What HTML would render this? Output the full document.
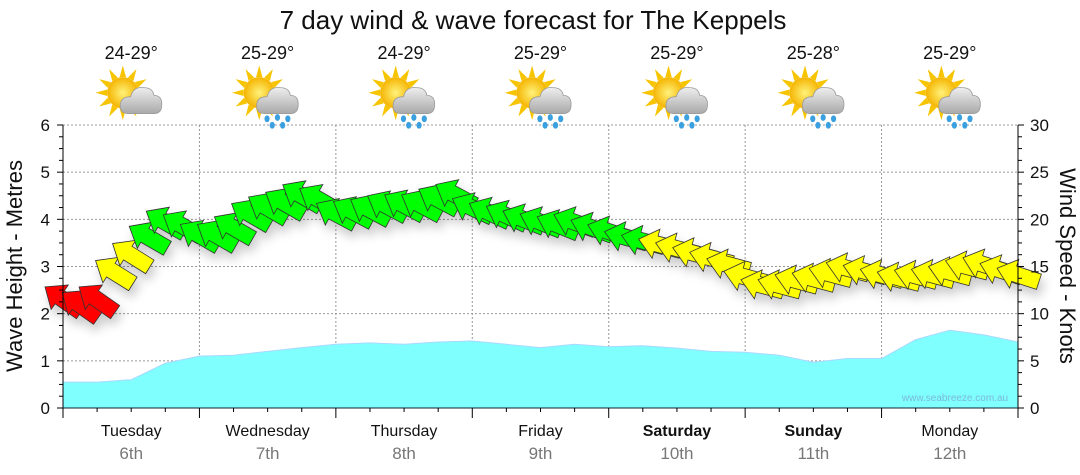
<!DOCTYPE html>
<html><head><meta charset="utf-8"><style>
body{margin:0;background:#fff;}
svg{display:block;font-family:"Liberation Sans",sans-serif;}
</style></head><body>
<svg id="c" width="1080" height="475" viewBox="0 0 1080 475">
<defs>
<filter id="sh" x="-30%" y="-30%" width="160%" height="180%"><feDropShadow dx="3" dy="7" stdDeviation="5" flood-color="#000" flood-opacity="0.2"/></filter>
<radialGradient id="sun" cx="50%" cy="50%" r="50%"><stop offset="0" stop-color="#fff27a"/><stop offset="1" stop-color="#f5b400"/></radialGradient>
<linearGradient id="cl" x1="0" y1="0" x2="0" y2="1"><stop offset="0" stop-color="#eee"/><stop offset="1" stop-color="#a9a9a9"/></linearGradient>
</defs>
<text x="533" y="29" text-anchor="middle" font-size="26" fill="#111">7 day wind &amp; wave forecast for The Keppels</text>
<g id="grid"></g>
<g id="waves"></g>
<g id="arrows" filter="url(#sh)"></g>
<g id="axes"></g>
<g id="top"></g>
<text x="955" y="401" text-anchor="middle" font-size="10" fill="#7ab8d8">www.seabreeze.com.au</text>
<text transform="translate(22,266) rotate(-90)" text-anchor="middle" font-size="22" fill="#111">Wave Height - Metres</text>
<text transform="translate(1060,266) rotate(90)" text-anchor="middle" font-size="22" fill="#111">Wind Speed - Knots</text>
</svg>
<script>
const days=["Tuesday","Wednesday","Thursday","Friday","Saturday","Sunday","Monday"];
const dates=["6th","7th","8th","9th","10th","11th","12th"];
const boldDays=[false,false,false,false,true,true,false];
const temps=["24-29°","25-29°","24-29°","25-29°","25-29°","25-28°","25-29°"];
const rainy=[false,true,true,true,true,true,true];
const leftTicks=[0,1,2,3,4,5,6];
const rightTicks=[0,5,10,15,20,25,30];
// wave height every 6 hours (m)
const waveHeights=[0.55,0.55,0.6,0.95,1.1,1.12,1.2,1.28,1.35,1.38,1.35,1.4,1.42,1.35,1.28,1.35,1.3,1.32,1.27,1.2,1.18,1.12,0.97,1.05,1.05,1.45,1.65,1.55,1.4];
// wind speed every 3 hours (knots)
const windSpeeds=[11.5,10.9,11.5,14.4,16.2,18.1,19.7,19.3,18.3,18.3,19.1,20.5,21.2,21.7,22.5,22.1,20.6,20.8,21.0,21.4,21.5,21.5,22.1,22.6,21.2,20.7,20.4,20.0,19.7,19.4,19.7,19.1,18.7,18.1,17.7,17.3,16.9,16.4,15.9,15.2,13.9,13.0,13.0,13.5,13.7,14.2,14.8,14.5,14.1,13.8,14.0,14.1,14.4,15.0,15.2,14.6,14.1];
// wind direction (degrees, from)
const windDirs=[125,125,125,122,122,120,120,120,120,120,120,120,120,120,120,120,118,118,118,118,118,118,118,118,115,115,115,112,112,112,110,110,108,105,105,105,105,105,105,105,105,105,105,105,105,105,105,105,105,105,105,105,105,105,108,108,108];

const X0=63,X1=1018,YB=408,YT=125,HOURS=168;
const xH=h=>X0+h*(X1-X0)/HOURS;
const yM=m=>YB-m*(YB-YT)/6;
const yK=k=>YB-k*(YB-YT)/30;
const NS="http://www.w3.org/2000/svg";
function mk(tag,attrs,parent){const e=document.createElementNS(NS,tag);for(const k in attrs)e.setAttribute(k,attrs[k]);parent.appendChild(e);return e;}
const grid=document.getElementById('grid'),axes=document.getElementById('axes'),top_=document.getElementById('top'),wv=document.getElementById('waves'),ar=document.getElementById('arrows');

leftTicks.forEach(v=>{if(v>0){const l=mk('line',{x1:X0,x2:X1,y1:yM(v),y2:yM(v),stroke:'#999','stroke-dasharray':'2,2','stroke-width':1},grid);

}});
for(let d=1;d<7;d++){const l=mk('line',{x1:xH(d*24),x2:xH(d*24),y1:YT,y2:YB,stroke:'#999','stroke-dasharray':'2,2'},grid);

}

let p='M'+X0+','+YB;
waveHeights.forEach((m,i)=>{p+=' L'+xH(i*6).toFixed(1)+','+yM(m).toFixed(1);});
p+=' L'+X1+','+YB+' Z';
const wa=mk('path',{d:p,fill:'#80ffff',stroke:'#a9d8ff','stroke-width':1},wv);



const shape="-22,0 -4,-15 -4,-8 22,-8 22,8 -4,8 -4,15";
windSpeeds.forEach((k,i)=>{
 const col=k<12?'#ff0000':(k<17.5?'#ffff00':'#00ff00');
 const a=mk('polygon',{points:shape,fill:col,stroke:'#333','stroke-width':0.8,
 transform:'translate('+xH(i*3).toFixed(1)+','+yK(k).toFixed(1)+') rotate('+(windDirs[i]-90)+')'},ar);
 
 
});

mk('line',{x1:X0,x2:X0,y1:YT,y2:YB,stroke:'#000'},axes);
mk('line',{x1:X1,x2:X1,y1:YT,y2:YB,stroke:'#000'},axes);
mk('line',{x1:X0,x2:X1,y1:YB,y2:YB,stroke:'#123'},axes);
for(let i=0;i<=24;i++){const y=yM(i*0.25);mk('line',{x1:X0-(i%4?4:6),x2:X0,y1:y,y2:y,stroke:'#000'},axes);mk('line',{x1:X1,x2:X1+(i%4?4:6),y1:y,y2:y,stroke:'#000'},axes);}
leftTicks.forEach(v=>{const t=mk('text',{x:50,y:yM(v)+6,'text-anchor':'end','font-size':17,fill:'#111'},axes);t.textContent=v;

});
rightTicks.forEach(v=>{const t=mk('text',{x:1030,y:yK(v)+6,'font-size':17,fill:'#111'},axes);t.textContent=v;

});
for(let h=0;h<=HOURS;h+=6){const x=xH(h);mk('line',{x1:x,x2:x,y1:YB,y2:YB+(h%24?4:10),stroke:'#000'},axes);}
days.forEach((d,i)=>{const cx=xH(i*24+12);
 const t=mk('text',{x:cx,y:436,'text-anchor':'middle','font-size':16,fill:'#111','font-weight':boldDays[i]?'bold':'normal'},axes);t.textContent=d;
 
 
 const s=mk('text',{x:cx,y:459,'text-anchor':'middle','font-size':17,fill:'#777'},axes);s.textContent=dates[i];
 
 
 const tt=mk('text',{x:cx,y:59,'text-anchor':'middle','font-size':18,fill:'#111'},top_);tt.textContent=temps[i];
 
 
 const g=mk('g',{transform:'translate('+(cx+2)+',98) scale(1.3)'},top_);
 
 
 for(let r=0;r<12;r++){const an=r*30;mk('polygon',{points:'-2.5,-12 2.5,-12 0,-21',fill:'#f7c400',transform:'translate(-8,-4) rotate('+an+')'},g);}
 mk('circle',{cx:-8,cy:-4,r:12,fill:'url(#sun)'},g);
 mk('path',{d:'M-4,12 Q-10,12 -10,6 Q-10,-1 -2,-1 Q0,-9 8,-8 Q15,-8 16,-2 Q22,-2 22,5 Q22,12 16,12 Z',fill:'url(#cl)',stroke:'#999','stroke-width':0.6},g);
 if(rainy[i]){[[-2,16],[6,15],[14,16],[2,21],[10,21]].forEach(q=>mk('ellipse',{cx:q[0],cy:q[1],rx:2,ry:2.6,fill:'#3aa0e0'},g));}
});
</script>
</body></html>
